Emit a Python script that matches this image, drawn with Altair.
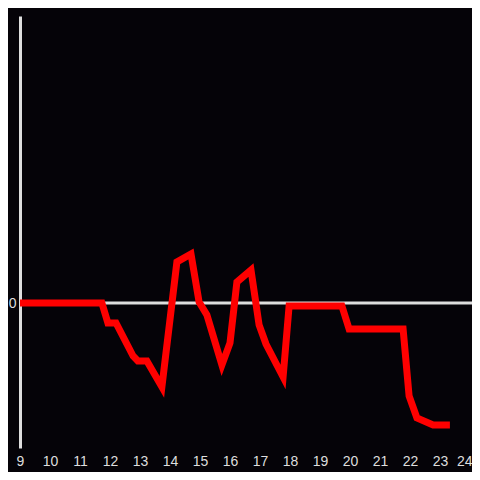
import altair as alt
import pandas as pd

hours = [9.0, 11.73, 11.93, 12.2, 12.77, 12.93, 13.23, 13.73, 14.23, 14.7, 14.97,
         15.23, 15.73, 16.0, 16.23, 16.7, 16.97, 17.2, 17.77, 17.97, 19.73, 19.97,
         21.77, 21.97, 22.23, 22.77, 23.33]
values = [0, 0, -20, -20, -53, -58, -58, -84, 41, 49, 1,
          -12, -62, -40, 21, 33, -22, -41, -74, -3, -3, -26,
          -26, -93, -115, -122, -122]
x_ticks = list(range(9, 25))
y_ticks = [0]

df = pd.DataFrame({"hour": hours, "value": values})
zero_df = pd.DataFrame({"y": [0]})

FONT = "Liberation Sans"
GRAY = "#dedede"

xscale = alt.Scale(domain=[9, 9 + 452 / 30], nice=False, zero=False)
yscale = alt.Scale(domain=[-145, 287], nice=False, zero=False)

rule = alt.Chart(zero_df).mark_rule(color=GRAY, strokeWidth=3).encode(
    y=alt.Y("y:Q", scale=yscale),
    x=alt.value(0), x2=alt.value(452),
)

line = alt.Chart(df).mark_line(color="#ff0000", strokeWidth=7, strokeJoin="miter").encode(
    x=alt.X("hour:Q", scale=xscale,
            axis=alt.Axis(values=x_ticks, title=None, domain=False, ticks=False, grid=False,
                          labelColor=GRAY, labelFont=FONT, labelFontSize=14, labelPadding=6,
                          labelFlush=False, format="d",
                          labelAlign=alt.expr("datum.value == 24 ? 'right' : 'center'"),
                          labelOffset=alt.expr("datum.value == 24 ? 2 : 0"))),
    y=alt.Y("value:Q", scale=yscale,
            axis=alt.Axis(values=y_ticks, title=None, domain=True, domainColor=GRAY,
                          domainWidth=3, ticks=False, grid=False, labelColor=GRAY,
                          labelFont=FONT, labelFontSize=14, labelPadding=4, format="d")),
)

chart = (rule + line).properties(
    width=452, height=432,
    background="#050308",
    autosize=alt.AutoSizeParams(type="none"),
    padding={"left": 12, "top": 8, "right": 0, "bottom": 24},
).configure_view(stroke=None)

chart.save("out.html", embed_options={"renderer": "svg", "actions": False})
